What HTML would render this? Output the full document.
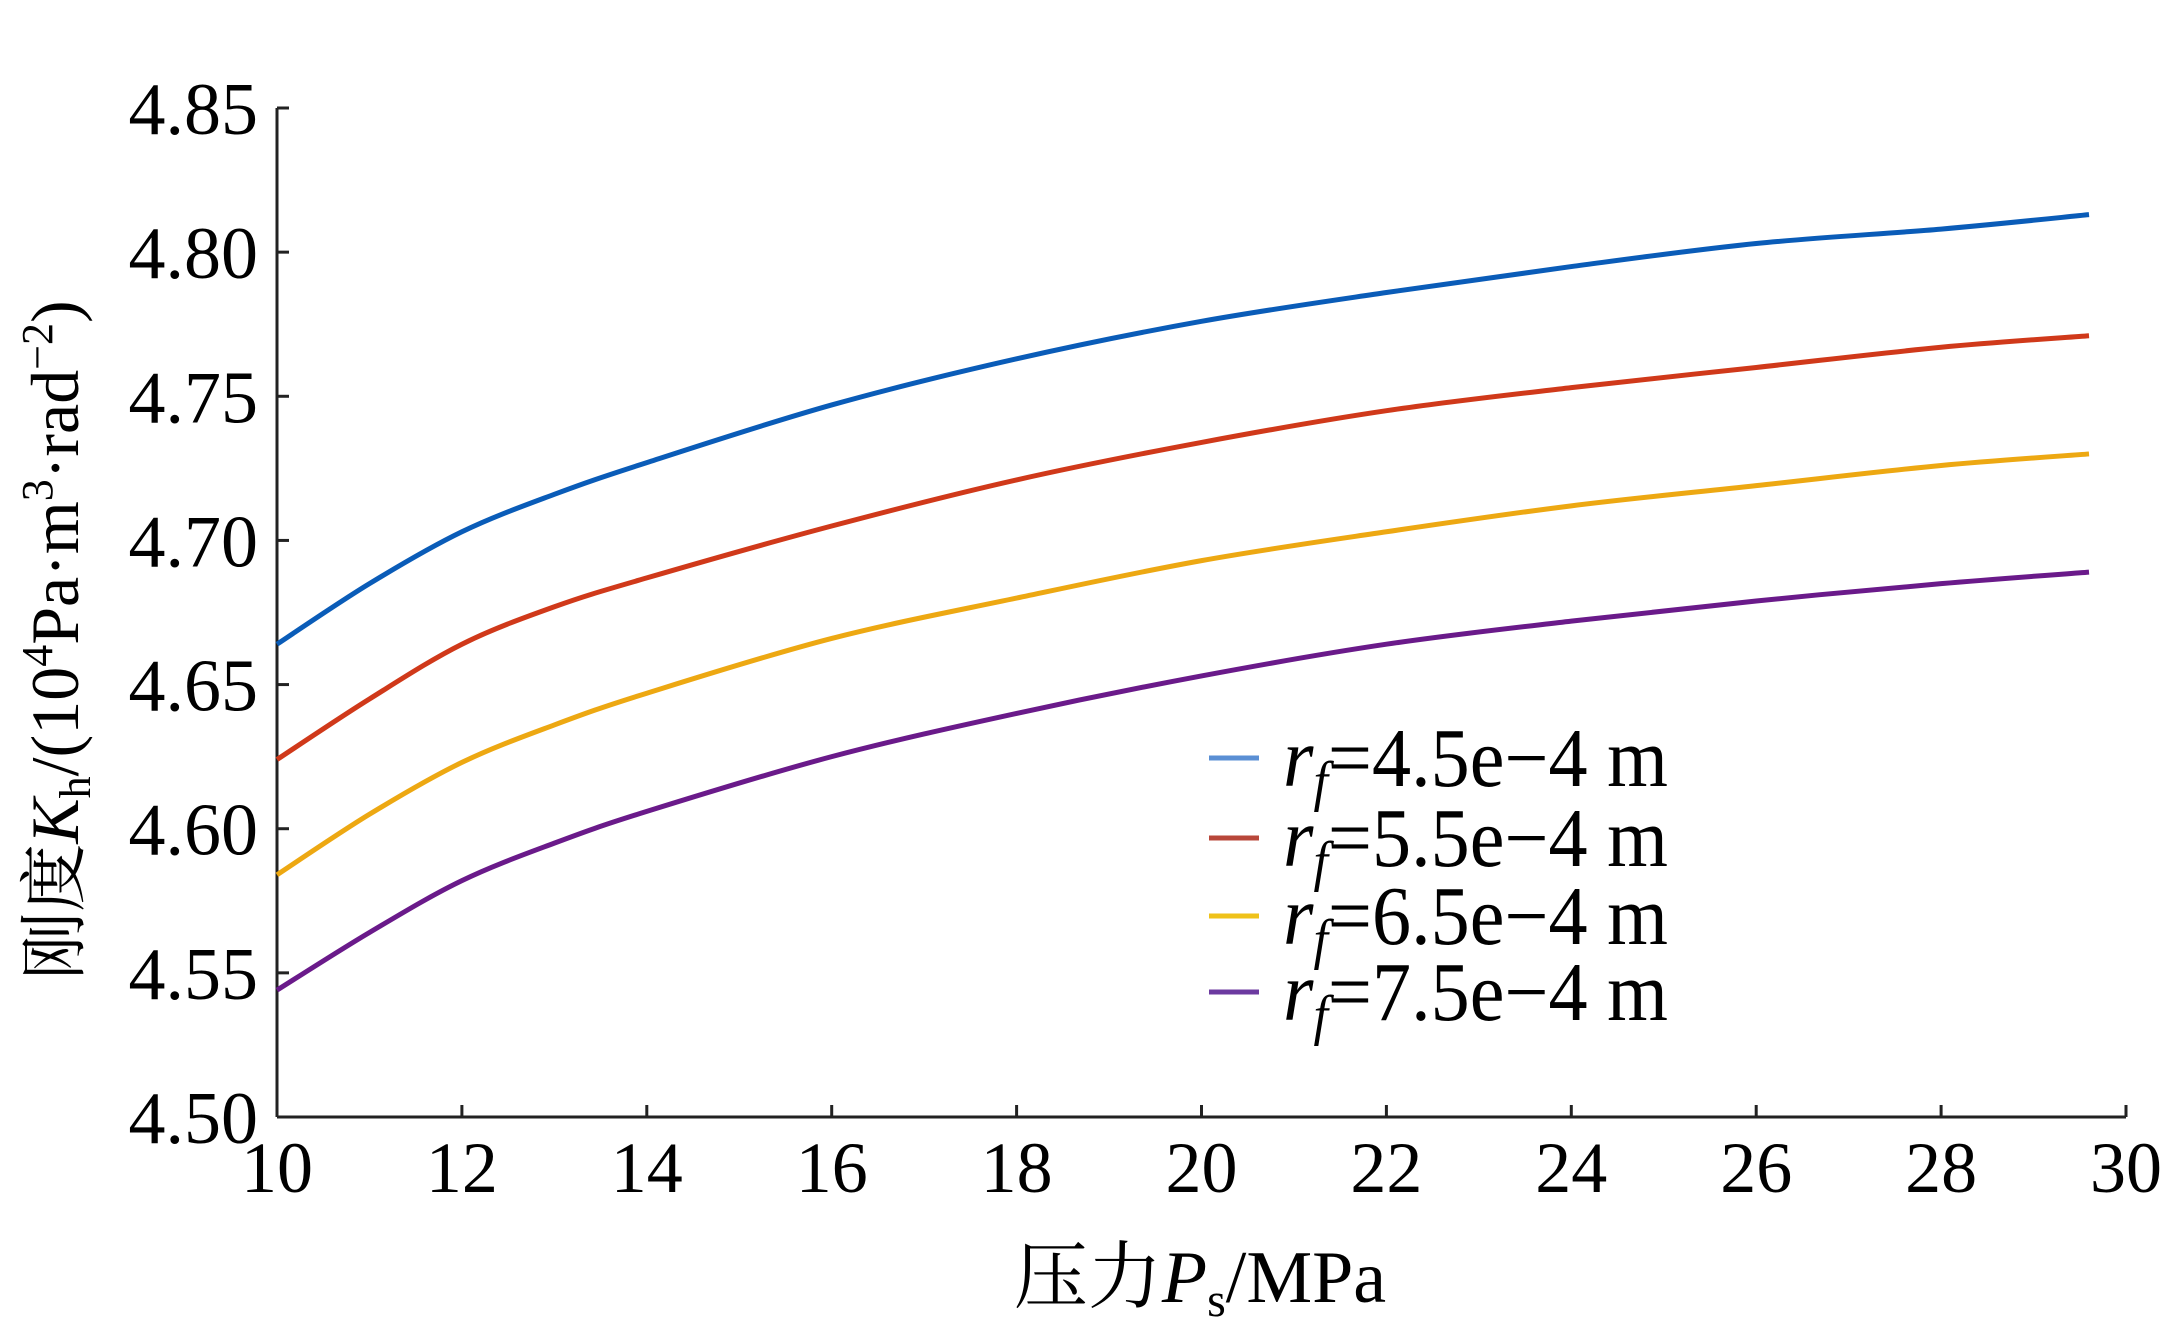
<!DOCTYPE html>
<html><head><meta charset="utf-8"><style>
html,body{margin:0;padding:0;background:#fff;}
svg{display:block;}
text{font-family:"Liberation Serif","Noto Serif CJK SC",serif;fill:#000;}
</style></head><body>
<svg id="chart" width="2164" height="1329" viewBox="0 0 2164 1329" xmlns="http://www.w3.org/2000/svg">
<g id="axes"></g><g id="series"></g><g id="legend"></g>
<text transform="translate(78,640) rotate(-90)" text-anchor="middle" font-size="68">刚度<tspan font-style="italic">K</tspan><tspan font-size="44" dy="12">h</tspan><tspan dy="-12">/(10</tspan><tspan font-size="44" dy="-26">4</tspan><tspan dy="26">Pa·m</tspan><tspan font-size="44" dy="-26">3</tspan><tspan dy="26">·rad</tspan><tspan font-size="44" dy="-26">−2</tspan><tspan dy="26">)</tspan></text>
<text x="1200" y="1302" text-anchor="middle" font-size="74">压力<tspan font-style="italic">P</tspan><tspan font-size="48" dy="14">s</tspan><tspan dy="-14">/MPa</tspan></text>
</svg>
<script>
const xValues=[10,11,12,13,14,16,18,20,22,24,26,28,29.6];
const seriesBlue=[4.664,4.685,4.703,4.716,4.727,4.747,4.763,4.776,4.786,4.795,4.803,4.808,4.813];
const seriesRed=[4.624,4.645,4.664,4.677,4.687,4.705,4.721,4.734,4.745,4.753,4.760,4.767,4.771];
const seriesYellow=[4.584,4.605,4.623,4.636,4.647,4.666,4.680,4.693,4.703,4.712,4.719,4.726,4.730];
const seriesPurple=[4.544,4.564,4.582,4.595,4.606,4.625,4.640,4.653,4.664,4.672,4.679,4.685,4.689];
const seriesLabels=["=4.5e−4 m","=5.5e−4 m","=6.5e−4 m","=7.5e−4 m"];
const xTicks=[10,12,14,16,18,20,22,24,26,28,30];
const yTicks=[4.50,4.55,4.60,4.65,4.70,4.75,4.80,4.85];

const NS="http://www.w3.org/2000/svg";
const X0=277,X1=2126,Y0=1117,Y1=108;
const sx=v=>X0+(v-10)/(30-10)*(X1-X0);
const sy=v=>Y0-(v-4.5)/(4.85-4.5)*(Y0-Y1);
function mk(tag,attrs,parent){const e=document.createElementNS(NS,tag);for(const k in attrs)e.setAttribute(k,attrs[k]);parent.appendChild(e);return e;}
const axes=document.getElementById('axes');
let yl=mk('line',{x1:X0,y1:Y0,x2:X0,y2:Y1,stroke:'#222','stroke-width':3},axes);


let xl=mk('line',{x1:X0,y1:Y0,x2:X1,y2:Y0,stroke:'#222','stroke-width':3},axes);


xTicks.forEach(t=>{
  const x=sx(t);
  const tk=mk('line',{x1:x,y1:Y0,x2:x,y2:Y0-12,stroke:'#222','stroke-width':3},axes);
  
  
  const tx=mk('text',{x:x,y:1192,'text-anchor':'middle','font-size':72},axes);
  tx.textContent=String(t);
  
  
});
yTicks.forEach(t=>{
  const y=sy(t);
  const tk=mk('line',{x1:X0,y1:y,x2:X0+12,y2:y,stroke:'#222','stroke-width':3},axes);
  
  
  const tx=mk('text',{x:258,y:y+26,'text-anchor':'end','font-size':74},axes);
  tx.textContent=t.toFixed(2);
  
  
});
const allSeries=[seriesBlue,seriesRed,seriesYellow,seriesPurple];
const colors=['#0a5cb8','#d0391a','#eda812','#6a1a8a'];
const legColors=['#5a8fd4','#b8473a','#efc21a','#6c3aa0'];
const names=['series-rf-4-5','series-rf-5-5','series-rf-6-5','series-rf-7-5'];
const sg=document.getElementById('series');
function smoothPath(pts){
  let d=`M${pts[0][0]},${pts[0][1]}`;
  for(let i=0;i<pts.length-1;i++){
    const p0=pts[Math.max(0,i-1)],p1=pts[i],p2=pts[i+1],p3=pts[Math.min(pts.length-1,i+2)];
    const c1=[p1[0]+(p2[0]-p0[0])/6,p1[1]+(p2[1]-p0[1])/6];
    const c2=[p2[0]-(p3[0]-p1[0])/6,p2[1]-(p3[1]-p1[1])/6];
    d+=` C${c1[0]},${c1[1]} ${c2[0]},${c2[1]} ${p2[0]},${p2[1]}`;
  }
  return d;
}
allSeries.forEach((s,i)=>{
  const pts=s.map((v,j)=>[sx(xValues[j]),sy(v)]);
  const p=mk('path',{d:smoothPath(pts),fill:'none',stroke:colors[i],'stroke-width':5},sg);
  
  
});
const lg=document.getElementById('legend');
const legY=[758,838,916,992];
seriesLabels.forEach((lab,i)=>{
  const y=legY[i];
  const ln=mk('line',{x1:1209,y1:y,x2:1259,y2:y,stroke:legColors[i],'stroke-width':5},lg);
  
  
  const t=mk('text',{x:1283,y:y+28,'font-size':84,textLength:385,lengthAdjust:'spacingAndGlyphs'},lg);
  t.innerHTML=`<tspan font-style="italic">r</tspan><tspan font-style="italic" font-size="56" dy="14">f</tspan><tspan dy="-14">${lab}</tspan>`;
  
  
});
</script>
</body></html>
